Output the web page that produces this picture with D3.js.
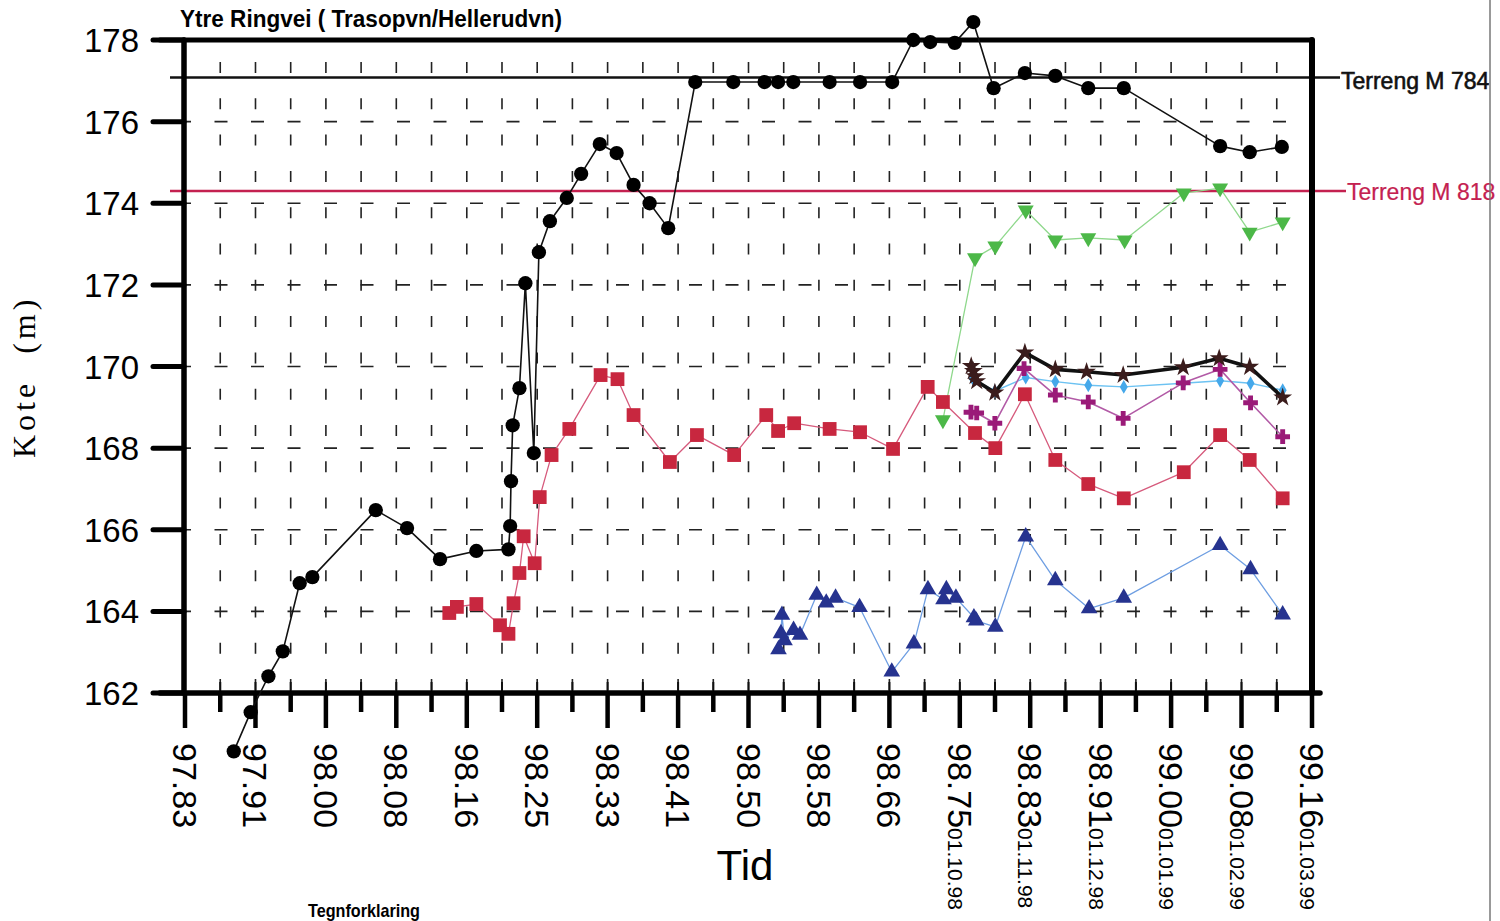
<!DOCTYPE html>
<html><head><meta charset="utf-8">
<script src="https://cdn.jsdelivr.net/npm/d3@7"></script>
<style>body{margin:0;background:#fff}svg{display:block}</style>
</head><body>
<svg id="c" width="1500" height="921"></svg>
<script>
// ---------- data ----------
const title = "Ytre Ringvei ( Trasopvn/Hellerudvn)";
const xTicks = [97.8333, 97.9167, 98.0000, 98.0833, 98.1667, 98.2500, 98.3333, 98.4167, 98.5000,
                98.5833, 98.6667, 98.7500, 98.8333, 98.9167, 99.0000, 99.0833, 99.1667];
const xTickLabels = ["97.83","97.91","98.00","98.08","98.16","98.25","98.33","98.41","98.50",
                     "98.58","98.66","98.75","98.83","98.91","99.00","99.08","99.16"];
const xDateLabels = ["","","","","","","","","","","","01.10.98","01.11.98","01.12.98","01.01.99","01.02.99","01.03.99"];
const yTicks = [162,164,166,168,170,172,174,176,178];
const yTickLabels = ["162","164","166","168","170","172","174","176","178"];

const terrainValues = [177.08, 174.30];
const terrainLabels = ["Terreng M 784", "Terreng M 818"];

const circleSeries = [[97.891,160.57],[97.911,161.53],[97.932,162.41],[97.949,163.02],[97.969,164.69],[97.984,164.84],
 [98.059,166.48],[98.096,166.04],[98.135,165.28],[98.178,165.48],[98.216,165.52],[98.218,166.09],[98.219,167.19],
 [98.221,168.56],[98.229,169.47],[98.236,172.04],[98.246,167.88],[98.252,172.80],[98.265,173.56],[98.285,174.13],
 [98.302,174.72],[98.324,175.45],[98.344,175.23],[98.364,174.45],[98.383,174.00],[98.405,173.39],[98.437,176.97],
 [98.482,176.97],[98.519,176.97],[98.535,176.97],[98.553,176.97],[98.596,176.97],[98.632,176.97],[98.670,176.97],
 [98.695,178.00],[98.715,177.95],[98.744,177.93],[98.766,178.44],[98.790,176.82],[98.827,177.19],[98.863,177.12],
 [98.902,176.82],[98.944,176.82],[99.058,175.40],[99.093,175.25],[99.131,175.38]];

const squareSeries = [[98.146,163.96],[98.155,164.11],[98.178,164.18],[98.206,163.66],[98.216,163.45],[98.222,164.20],
 [98.229,164.94],[98.234,165.84],[98.247,165.18],[98.253,166.80],[98.267,167.83],[98.288,168.47],[98.325,169.79],
 [98.345,169.69],[98.364,168.81],[98.407,167.66],[98.439,168.32],[98.483,167.83],[98.521,168.81],[98.535,168.42],
 [98.554,168.61],[98.596,168.47],[98.632,168.39],[98.671,167.98],[98.712,169.50],[98.730,169.13],[98.768,168.37],
 [98.792,168.00],[98.827,169.32],[98.863,167.71],[98.902,167.12],[98.944,166.77],[99.015,167.41],[99.058,168.32],
 [99.093,167.71],[99.132,166.77]];

const triangleSeries = [[98.5355,163.07],[98.5384,163.46],[98.5396,163.91],[98.5426,163.29],[98.5533,163.54],
 [98.5609,163.42],[98.5807,164.40],[98.592,164.21],[98.603,164.33],[98.6314,164.10],[98.6695,162.52],[98.6957,163.21],
 [98.7123,164.54],[98.7307,164.29],[98.7341,164.54],[98.7454,164.33],[98.7667,163.85],[98.7695,163.77],[98.792,163.62],
 [98.828,165.83],[98.863,164.76],[98.903,164.07],[98.944,164.33],[99.058,165.62],[99.094,165.03],[99.132,163.92]];

const greenSeries = [[98.730,168.69],[98.768,172.66],[98.792,172.95],[98.828,173.83],[98.863,173.10],[98.902,173.15],
 [98.945,173.10],[99.015,174.25],[99.058,174.37],[99.093,173.29],[99.132,173.54]];

const diamondSeries = [[98.765,169.71],[98.7915,169.40],[98.828,169.73],[98.863,169.63],[98.902,169.54],[98.944,169.50],
 [99.0143,169.59],[99.058,169.65],[99.094,169.59],[99.132,169.42]];

const crossSeries = [[98.7632,168.88],[98.770,168.86],[98.7915,168.61],[98.826,169.95],[98.863,169.30],[98.902,169.13],
 [98.9433,168.73],[99.0143,169.60],[99.058,169.93],[99.094,169.11],[99.132,168.28]];

const starSeries = [[98.7635,170.01],[98.766,169.89],[98.768,169.76],[98.770,169.64],[98.7915,169.36],[98.827,170.34],
 [98.863,169.93],[98.900,169.87],[98.9433,169.79],[99.0143,169.98],[99.0569,170.20],[99.093,169.99],[99.132,169.24]];

// ---------- layout ----------
const L = 184, R = 1312, T = 40, B = 693;
const svg = d3.select("#c");
const x = d3.scaleLinear().domain([xTicks[0], xTicks[xTicks.length-1]]).range([L+1, R]);
const y = d3.scaleLinear().domain([162, 178]).range([B, T]);
const SANS = "'Liberation Sans', Arial, sans-serif";

svg.append("rect").attr("width",1500).attr("height",921).attr("fill","#fff");

const minorTicks = d3.pairs(xTicks).map(([a,b]) => (a+b)/2);
const allX = xTicks.concat(minorTicks).sort((a,b)=>a-b);

// grid
const g = svg.append("g");
g.selectAll("line.vg").data(allX.filter(v => v > xTicks[0] && v < xTicks[xTicks.length-1]))
  .enter().append("line")
  .attr("x1", d => x(d)).attr("x2", d => x(d)).attr("y1", T).attr("y2", B)
  .attr("stroke", "#222").attr("stroke-width", 1.6)
  .attr("stroke-dasharray", "11,25.3").attr("stroke-dashoffset", -22);
g.selectAll("line.hg").data(yTicks.slice(1, -1))
  .enter().append("line")
  .attr("x1", L).attr("x2", R).attr("y1", d => y(d)).attr("y2", d => y(d))
  .attr("stroke", "#222").attr("stroke-width", 1.6)
  .attr("stroke-dasharray", "13,23.5").attr("stroke-dashoffset", 6);

g.selectAll("line.it").data(allX).enter().append("line")
  .attr("x1", d => x(d)).attr("x2", d => x(d)).attr("y1", B-11).attr("y2", B)
  .attr("stroke", "#111").attr("stroke-width", 2);

// terrain lines
const terrainColors = ["#111", "#c42150"];
const terrainX2 = [1340, 1346];
terrainValues.forEach((v, i) => {
  svg.append("line").attr("x1", 170).attr("x2", terrainX2[i])
    .attr("y1", y(v)).attr("y2", y(v))
    .attr("stroke", terrainColors[i]).attr("stroke-width", i === 0 ? 2.6 : 2.4);
  svg.append("text").attr("x", terrainX2[i] + 1).attr("y", y(v) + (i === 0 ? 11 : 9))
    .attr("font-family", SANS).attr("font-size", 23)
    .attr("stroke", terrainColors[i]).attr("stroke-width", i === 0 ? 0.6 : 0.2)
    .attr("fill", terrainColors[i]).text(terrainLabels[i]);
});

// frame / axes
const frame = svg.append("g").attr("stroke", "#000").attr("stroke-linecap", "round");
frame.append("line").attr("x1", 160).attr("x2", 1320).attr("y1", B).attr("y2", B).attr("stroke-width", 5.5);
frame.append("line").attr("x1", L).attr("x2", L).attr("y1", T).attr("y2", B).attr("stroke-width", 5.5);
frame.append("line").attr("x1", 160).attr("x2", R).attr("y1", T).attr("y2", T).attr("stroke-width", 5);
frame.append("line").attr("x1", R).attr("x2", R).attr("y1", T).attr("y2", B).attr("stroke-width", 6);

frame.selectAll("line.yt").data(yTicks).enter().append("line")
  .attr("x1", 153).attr("x2", L).attr("y1", d => y(d)).attr("y2", d => y(d)).attr("stroke-width", 5);
svg.selectAll("text.yl").data(yTicks).enter().append("text")
  .attr("x", 139).attr("y", d => y(d) + 12)
  .attr("text-anchor", "end").attr("font-family", SANS).attr("font-size", 33)
  .text((d, i) => yTickLabels[i]);

frame.selectAll("line.xM").data(xTicks).enter().append("line")
  .attr("x1", d => x(d)).attr("x2", d => x(d)).attr("y1", B).attr("y2", B+35).attr("stroke-width", 4.5)
  .attr("stroke-linecap", "butt");
frame.selectAll("line.xm").data(minorTicks).enter().append("line")
  .attr("x1", d => x(d)).attr("x2", d => x(d)).attr("y1", B).attr("y2", B+19).attr("stroke-width", 4.5)
  .attr("stroke-linecap", "butt");

xTicks.forEach((t, i) => {
  const lx = x(t) - 12, ly = 743;
  const tx = svg.append("text").attr("x", lx).attr("y", ly)
    .attr("transform", `rotate(90,${lx},${ly})`)
    .attr("font-family", SANS).attr("font-size", 34).text(xTickLabels[i]);
  if (xDateLabels[i]) tx.append("tspan").attr("font-size", 21).text(xDateLabels[i]);
});

// titles
svg.append("text").attr("x", 180).attr("y", 27).attr("font-family", SANS).attr("font-weight", "bold")
  .attr("font-size", 23).attr("textLength", 382).attr("lengthAdjust", "spacingAndGlyphs").text(title);
svg.append("text").attr("x", 745).attr("y", 880).attr("text-anchor", "middle")
  .attr("font-family", SANS).attr("font-size", 42).text("Tid");
svg.append("text").attr("x", 308).attr("y", 917).attr("font-family", SANS).attr("font-weight", "bold")
  .attr("font-size", 19).attr("textLength", 112).attr("lengthAdjust", "spacingAndGlyphs").text("Tegnforklaring");
const yl = svg.append("text").attr("transform", "translate(35,458) rotate(-90)")
  .attr("font-family", "'Liberation Serif', 'Times New Roman', serif").attr("font-size", 32)
  .attr("letter-spacing", 4);
yl.append("tspan").text("Kote");
yl.append("tspan").attr("dx", 26).text("(m)");

svg.append("line").attr("x1", 1490).attr("x2", 1490).attr("y1", 0).attr("y2", 921)
  .attr("stroke", "#777").attr("stroke-width", 1.5);

// ---------- series ----------
const line = d3.line().x(d => x(d[0])).y(d => y(d[1]));
const series = [
  {data: greenSeries,    line: "#8fd88c", lw: 1.3, fill: "#4cb848", sym: d3.symbolTriangle, size: 110, rot: 180},
  {data: squareSeries,   line: "#d65a7c", lw: 1.3, fill: "#c8273f", sym: d3.symbolSquare,   size: 190, rot: 0},
  {data: triangleSeries, line: "#6e9ee2", lw: 1.3, fill: "#26338f", sym: d3.symbolTriangle, size: 120, rot: 0},
  {data: diamondSeries,  line: "#6cc2f2", lw: 1.4, fill: "#45a8ea", sym: d3.symbolDiamond,  size: 55,  rot: 0},
  {data: crossSeries,    line: "#b25aa6", lw: 1.6, fill: "#9a1a78", sym: d3.symbolCross,    size: 120, rot: 0},
  {data: starSeries,     line: "#111",    lw: 3.6, fill: "#3b1c1c", sym: d3.symbolStar,     size: 110, rot: 0},
  {data: circleSeries,   line: "#111",    lw: 1.6, fill: "#000",    sym: d3.symbolCircle,   size: 160, rot: 0}
];
series.forEach(s => {
  svg.append("path").datum(s.data).attr("d", line)
    .attr("fill", "none").attr("stroke", s.line).attr("stroke-width", s.lw).attr("stroke-linejoin", "round");
  svg.append("g").selectAll("path").data(s.data).enter().append("path")
    .attr("d", d3.symbol().type(s.sym).size(s.size))
    .attr("transform", d => `translate(${x(d[0])},${y(d[1])}) rotate(${s.rot})`)
    .attr("fill", s.fill);
});
</script>
</body></html>
